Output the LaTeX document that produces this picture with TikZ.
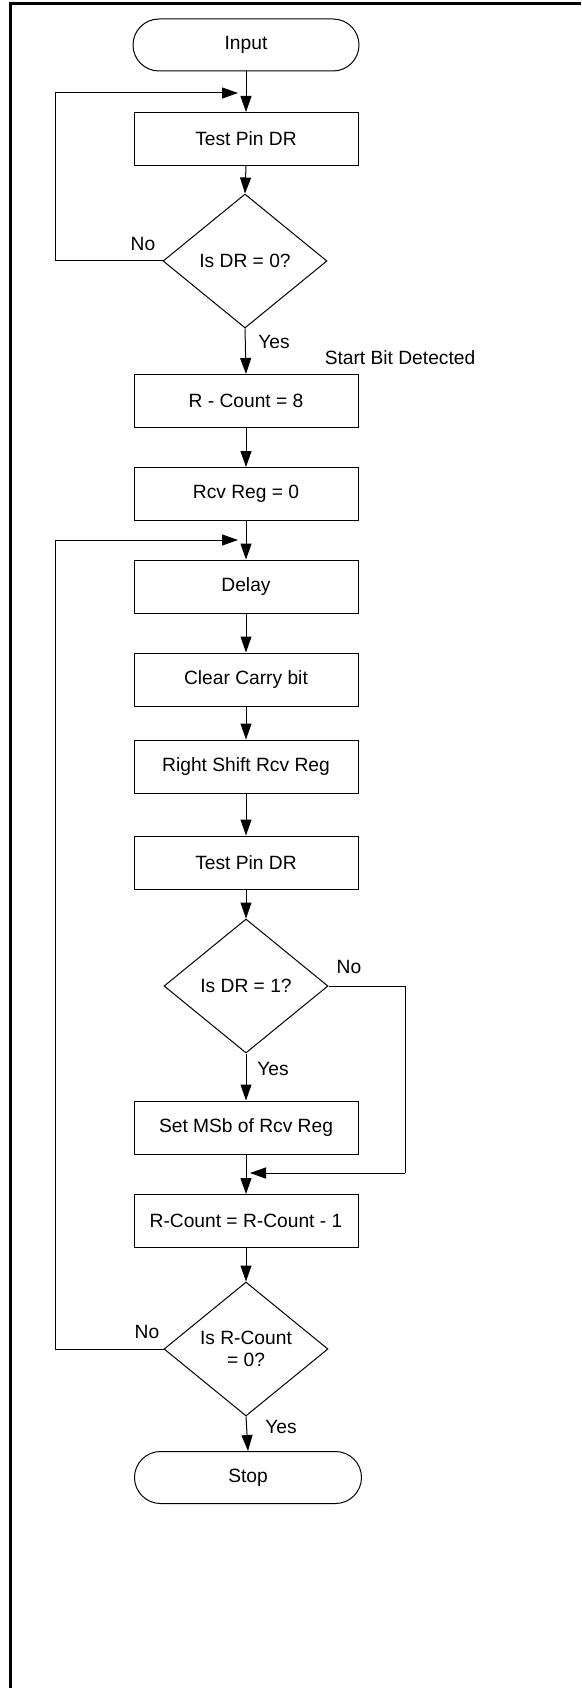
\documentclass[tikz,border=0pt]{standalone}
\usepackage{fontspec}
\setmainfont{Liberation Sans}
\usetikzlibrary{shapes.geometric,arrows.meta}
\begin{document}
\begin{tikzpicture}[x=1pt,y=-1pt,
  every node/.style={font=\fontsize{19.2}{22}\selectfont, inner sep=0pt},
  proc/.style={draw, line width=1pt, minimum width=224pt, minimum height=53pt},
  term/.style={draw, line width=1pt, rounded corners=26pt, minimum width=226pt, minimum height=52pt},
  decide/.style={draw, line width=1pt, diamond, minimum width=164pt, minimum height=134pt, align=center},
  flow/.style={line width=1pt, -{Triangle[length=16pt,width=11pt]}},
  wire/.style={line width=1pt}
]
\useasboundingbox (0,0) rectangle (581,1688);
\draw[line width=3pt] (10,1688) -- (10,3.5) -- (581,3.5);

\node[term] (in) at (246,45) {Input};
\node[proc] (t1) at (246,139) {Test Pin DR};
\node[decide] (d1) at (245,261) {Is DR = 0?};
\node[proc] (rc) at (246,401) {R - Count = 8};
\node[proc] (rr) at (246,494) {Rcv Reg = 0};
\node[proc] (dl) at (246,586.5) {Delay};
\node[proc] (cc) at (246,679.5) {Clear Carry bit};
\node[proc] (rs) at (246,766.5) {Right Shift Rcv Reg};
\node[proc] (t2) at (246,862.5) {Test Pin DR};
\node[decide] (d2) at (246,986) {Is DR = 1?};
\node[proc] (ms) at (246,1127.5) {Set MSb of Rcv Reg};
\node[proc] (dec) at (246,1221) {R-Count = R-Count - 1};
\node[decide] (d3) at (246,1349) {Is R-Count\\= 0?};
\node[term, minimum width=227pt] (stop) at (248,1477.5) {Stop};

\node (no1) at (143,244) {No};
\node (yes1) at (274,342) {Yes};
\node (sbd) at (400,358) {Start Bit Detected};
\node (no2) at (349,967) {No};
\node (yes2) at (273,1069) {Yes};
\node (no3) at (147,1332) {No};
\node (yes3) at (281,1427) {Yes};

\coordinate (l1) at (55,93);
\coordinate (l1e) at (238,93);
\coordinate (l2) at (55,540);
\coordinate (l2e) at (238,540);
\coordinate (r1) at (405,1173);
\coordinate (r1e) at (250,1173);

\draw[flow] (in.south) -- (t1.north);
\draw[flow] (t1.south) -- (d1.north);
\draw[wire] (d1.west) -| (l1);
\draw[flow] (l1) -- (l1e);
\draw[flow] (d1.south) -- (rc.north);
\draw[flow] (rc.south) -- (rr.north);
\draw[flow] (rr.south) -- (dl.north);
\draw[flow] (dl.south) -- (cc.north);
\draw[flow] (cc.south) -- (rs.north);
\draw[flow] (rs.south) -- (t2.north);
\draw[flow] (t2.south) -- (d2.north);
\draw[flow] (d2.south) -- (ms.north);
\draw[wire] (d2.east) -| (r1);
\draw[flow] (r1) -- (r1e);
\draw[flow] (ms.south) -- (dec.north);
\draw[flow] (dec.south) -- (d3.north);
\draw[wire] (d3.west) -| (l2);
\draw[flow] (l2) -- (l2e);
\draw[flow] (d3.south) -- (stop.north);
\end{tikzpicture}
\end{document}
